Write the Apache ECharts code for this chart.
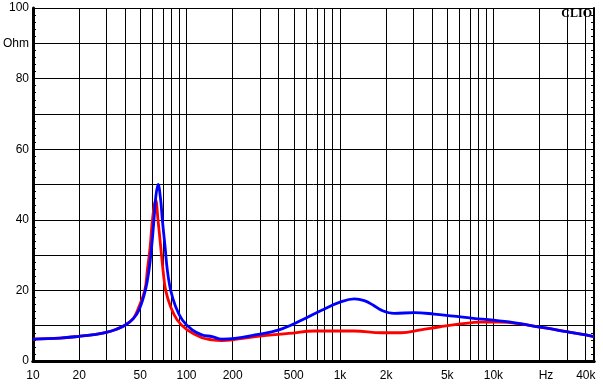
<!DOCTYPE html>
<html><head><meta charset="utf-8">
<script src="https://cdn.jsdelivr.net/npm/echarts@6/dist/echarts.min.js"></script>
<style>html,body{margin:0;padding:0;background:#fff}#c{width:603px;height:390px}</style>
</head><body><div id="c"></div>
<script>
// Blue trace: frequency (Hz) and impedance (Ohm)
const blueFreq = [10, 15, 20, 25, 30, 35, 40, 45, 49, 54, 57, 59.3, 61.4, 63.1, 65.3, 67.9, 69.6, 72.5, 75, 78.8, 85, 94, 109, 126, 147, 170, 207, 280, 400, 565, 760, 1020, 1240, 1440, 1650, 1860, 2250, 3050, 4100, 5500, 7400, 10000, 13500, 18200, 22300, 30000, 40000, 45000];
const blueOhm  = [6.2, 6.5, 7.0, 7.5, 8.1, 9.0, 10.2, 12.0, 14.4, 20.1, 25.8, 32.4, 40, 46.5, 50.0, 45.6, 40, 32.4, 25.8, 20.1, 15.4, 11.6, 8.8, 7.4, 6.9, 6.2, 6.4, 7.4, 8.8, 11.6, 14.4, 16.8, 17.6, 17.1, 15.8, 14.4, 13.5, 13.7, 13.3, 12.7, 12.1, 11.6, 10.9, 9.9, 9.3, 8.3, 7.4, 6.9];
// Red trace
const redFreq = [10, 15, 20, 25, 30, 35, 40, 45, 48, 53.5, 55.6, 58, 60, 63, 65.2, 67.9, 70.3, 73.2, 78.8, 87, 101, 126, 147, 170, 207, 310, 464, 680, 1240, 1860, 2500, 3360, 4500, 6100, 8300, 11000, 15000, 19500, 22300, 30000, 40000, 45000];
const redOhm  = [6.2, 6.5, 7.0, 7.5, 8.1, 9.0, 10.2, 12.0, 14.4, 20, 25.8, 32.4, 40, 45.6, 40, 32.4, 25.8, 20, 15.4, 11.6, 8.8, 6.6, 6.0, 5.8, 6.1, 7.1, 7.8, 8.5, 8.5, 8.0, 8.0, 8.8, 9.7, 10.5, 11.0, 11.0, 10.5, 9.7, 9.3, 8.3, 7.4, 6.9];
// Vertical grid frequencies
const gridFreqs = [20,30,40,50,60,70,80,90,100,200,300,400,500,600,700,800,900,1000,2000,3000,4000,5000,6000,7000,8000,9000,10000,20000,30000,40000];
// X tick labels
const xTickFreqs  = [10, 20, 50, 100, 200, 500, 1000, 2000, 5000, 10000, 22000, 40000];
const xTickLabels = ['10','20','50','100','200','500','1k','2k','5k','10k','Hz','40k'];
// Y tick labels
const yTickValues = [0, 20, 40, 60, 80, 90, 100];
const yTickLabels = ['0','20','40','60','80','Ohm','100'];
const fMin = 10, fMax = 45200;

const FONT = "'Liberation Sans', Arial, sans-serif";
const lg = Math.log10;
const chart = echarts.init(document.getElementById('c'), null, {renderer: 'canvas'});
const xLabelFmt = v => {
  const i = xTickFreqs.findIndex(f => Math.abs(lg(f) - v) < 1e-6);
  return i >= 0 ? xTickLabels[i] : '';
};
const yLabelFmt = v => {
  const i = yTickValues.indexOf(v);
  return i >= 0 ? yTickLabels[i] : '';
};
chart.setOption({
  animation: false,
  backgroundColor: '#fff',
  grid: {left: 30, right: 9, top: 8, bottom: 29, containLabel: false},
  graphic: [{type: 'text', right: 11, top: 8, style: {text: 'CLIO', font: "bold 12px 'Liberation Serif', 'Times New Roman', serif", fill: '#000'}, z: 10}],
  xAxis: [{
    type: 'value', min: lg(fMin), max: lg(fMax), position: 'bottom',
    axisLine: {show: true, lineStyle: {color: '#000', width: 3}},
    axisTick: {show: false}, splitLine: {show: false},
    axisLabel: {show: true, customValues: xTickFreqs.map(lg), formatter: xLabelFmt, color: '#000', fontSize: 12, fontFamily: FONT, margin: 9, showMinLabel: true, showMaxLabel: true, alignMinLabel: 'center', alignMaxLabel: 'center'}
  }, {
    type: 'value', min: lg(fMin), max: lg(fMax), position: 'top',
    axisLine: {show: true, lineStyle: {color: '#000', width: 3}},
    axisTick: {show: false}, splitLine: {show: false}, axisLabel: {show: false}
  }],
  yAxis: [{
    type: 'value', min: 0, max: 100, interval: 10, position: 'left',
    axisLine: {show: true, lineStyle: {color: '#000', width: 3}},
    axisTick: {show: true, inside: true, length: 3, lineStyle: {color: '#000', width: 1}},
    minorTick: {show: true, splitNumber: 5, length: 3, lineStyle: {color: '#000', width: 1}},
    splitLine: {show: true, lineStyle: {color: '#000', width: 1}},
    axisLabel: {formatter: yLabelFmt, color: '#000', fontSize: 12, fontFamily: FONT, margin: 4}
  }, {
    type: 'value', min: 0, max: 100, interval: 10, position: 'right',
    axisLine: {show: true, lineStyle: {color: '#000', width: 2}},
    axisTick: {show: true, inside: true, length: 3, lineStyle: {color: '#000', width: 1}},
    minorTick: {show: true, splitNumber: 5, length: 3, lineStyle: {color: '#000', width: 1}},
    splitLine: {show: false}, axisLabel: {show: false}
  }],
  series: [{
    type: 'line', data: [], silent: true,
    markLine: {silent: true, z: 1, symbol: 'none', animation: false,
      label: {show: false}, emphasis: {disabled: true},
      lineStyle: {color: '#000', width: 1, type: 'solid'},
      data: gridFreqs.map(f => ({xAxis: lg(f)}))}
  }, {
    type: 'line', z: 3, showSymbol: false, smooth: 0.4,
    lineStyle: {color: '#ff0000', width: 2.8}, itemStyle: {color: '#ff0000'},
    data: redFreq.map((f, i) => [lg(f), redOhm[i]])
  }, {
    type: 'line', z: 4, showSymbol: false, smooth: 0.4,
    lineStyle: {color: '#0000ff', width: 2.8}, itemStyle: {color: '#0000ff'},
    data: blueFreq.map((f, i) => [lg(f), blueOhm[i]])
  }]
});
</script></body></html>
